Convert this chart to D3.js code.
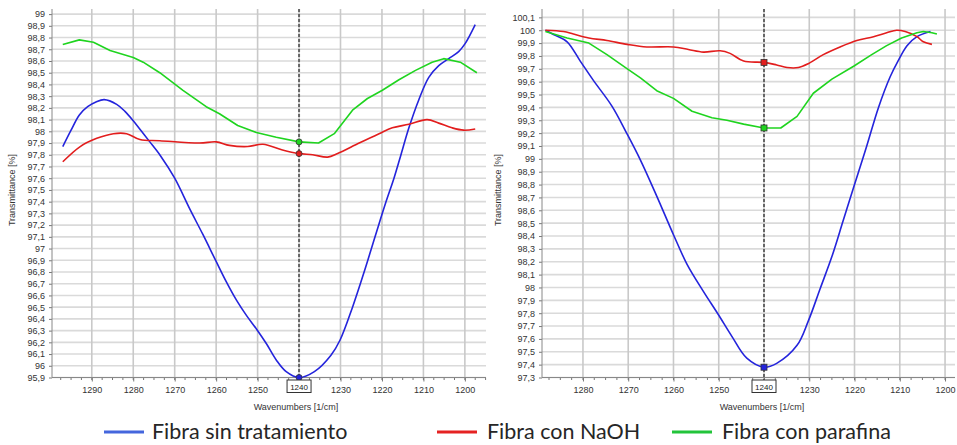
<!DOCTYPE html>
<html>
<head>
<meta charset="utf-8">
<script src="https://cdn.jsdelivr.net/npm/d3@7"></script>
<style>
  html, body { margin: 0; padding: 0; background: #fff; }
  svg { display: block; }
</style>
</head>
<body>
<svg id="chart" width="957" height="445"></svg>
<script>
// Wavenumber / transmittance readings, [1/cm, %]
const leftSinTratamiento = [
  [1297, 97.87], [1295, 98.01], [1293, 98.14], [1291, 98.21], [1289, 98.25], [1287, 98.27],
  [1284, 98.23], [1282, 98.17], [1280, 98.09], [1278, 98.00], [1276, 97.91], [1273.4, 97.79],
  [1270, 97.60], [1266.4, 97.34], [1263.2, 97.12], [1260, 96.89], [1257.6, 96.72], [1255.1, 96.56],
  [1252.7, 96.43], [1250.2, 96.31], [1247.9, 96.19], [1245.5, 96.05], [1243.1, 95.95], [1240, 95.90],
  [1236.3, 95.95], [1232.3, 96.09], [1230.1, 96.22], [1227.1, 96.50], [1224.3, 96.80], [1221.5, 97.12],
  [1219.1, 97.39], [1217.1, 97.60], [1215.5, 97.79], [1213.5, 98.03], [1211.1, 98.27], [1208.7, 98.46],
  [1206.3, 98.56], [1203.9, 98.62], [1201.5, 98.68], [1199.9, 98.75], [1197.5, 98.91]
];
const leftNaOH = [
  [1297, 97.74], [1292.8, 97.87], [1288.8, 97.94], [1284.8, 97.98], [1281.6, 97.98], [1278.4, 97.93],
  [1273.6, 97.92], [1264, 97.90], [1260, 97.91], [1256.8, 97.88], [1252.4, 97.87], [1248.7, 97.89],
  [1244, 97.84], [1240, 97.81], [1236.7, 97.80], [1233.1, 97.78], [1230.7, 97.81], [1225.5, 97.90],
  [1220.7, 97.98], [1217.5, 98.03], [1213.5, 98.06], [1209.1, 98.10], [1206.3, 98.07], [1203.1, 98.03],
  [1200.3, 98.01], [1197.5, 98.02]
];
const leftParafina = [
  [1297, 98.74], [1293, 98.78], [1289.6, 98.76], [1285.6, 98.69], [1280, 98.63], [1277.6, 98.59],
  [1273.6, 98.50], [1268, 98.35], [1262.4, 98.21], [1259.2, 98.15], [1254.8, 98.05], [1250.3, 97.99],
  [1245.5, 97.95], [1240, 97.91], [1235.3, 97.90], [1231.5, 97.98], [1227.1, 98.18], [1223.5, 98.28],
  [1219.9, 98.35], [1215.9, 98.44], [1211.9, 98.52], [1207.9, 98.59], [1205.1, 98.62], [1201.1, 98.59],
  [1197.1, 98.50]
];
const rightSinTratamiento = [
  [1288.3, 100.00], [1286.1, 99.96], [1283.5, 99.91], [1280.6, 99.76], [1277.7, 99.61], [1273.6, 99.41],
  [1270.2, 99.19], [1267.3, 98.99], [1263.7, 98.71], [1260, 98.41], [1257, 98.18], [1253.4, 97.97],
  [1250.1, 97.79], [1247.1, 97.62], [1243.8, 97.45], [1240, 97.38], [1237.2, 97.41], [1232.7, 97.55],
  [1230.2, 97.74], [1227.6, 97.99], [1225, 98.24], [1222.5, 98.52], [1220, 98.80], [1217.3, 99.10],
  [1214.7, 99.40], [1212.1, 99.64], [1210.4, 99.76], [1208.4, 99.88], [1206.2, 99.95], [1203.2, 99.99]
];
const rightNaOH = [
  [1288.3, 100.00], [1284.3, 99.99], [1282.1, 99.97], [1278.7, 99.94], [1274.7, 99.92], [1270.2, 99.89],
  [1265.9, 99.87], [1260, 99.87], [1256.7, 99.85], [1253.4, 99.83], [1249.7, 99.84], [1247.5, 99.82],
  [1244.5, 99.76], [1240, 99.75], [1237.2, 99.73], [1234.9, 99.71], [1232.4, 99.71], [1230.2, 99.74],
  [1226.9, 99.81], [1223.2, 99.87], [1219.5, 99.92], [1215.8, 99.95], [1212.9, 99.98], [1210.7, 100.00],
  [1208.8, 99.99], [1206.2, 99.95], [1204.8, 99.91], [1202.9, 99.89]
];
const rightParafina = [
  [1288.3, 99.99], [1283.5, 99.94], [1278.7, 99.90], [1274.7, 99.81], [1270.2, 99.70], [1267.3, 99.63],
  [1263.7, 99.53], [1260, 99.47], [1255.9, 99.37], [1251.5, 99.32], [1248.2, 99.30], [1244.5, 99.27],
  [1240, 99.24], [1236.3, 99.24], [1232.7, 99.33], [1229.1, 99.51], [1225, 99.62], [1220.2, 99.72],
  [1216.2, 99.81], [1212.9, 99.88], [1209.6, 99.94], [1206.2, 99.98], [1204.8, 99.99], [1202.9, 99.98],
  [1201.8, 99.97]
];

const xTickValues = [1290, 1280, 1270, 1260, 1250, 1240, 1230, 1220, 1210, 1200];
const leftYTicks = d3.range(959, 991).map(v => v / 10);    // 95,9 … 99
const rightYTicks = d3.range(973, 1002).map(v => v / 10);  // 97,3 … 100,1
const cursorWavenumber = 1240;

const seriesNames = ["Fibra sin tratamiento", "Fibra con NaOH", "Fibra con parafina"];
const seriesColors = ["#2424dc", "#e21d1d", "#1fd41f"];
const legendColors = ["#4466dd", "#e52222", "#22c43a"];

const xAxisTitle = "Wavenumbers [1/cm]";
const yAxisTitle = "Transmittance [%]";

const fmt = v => String(+v.toFixed(1)).replace(".", ",");

const svg = d3.select("#chart");

const panels = [
  {
    left: 52, right: 486, top: 9, bottom: 377.5,
    xDomain: [1299.6, 1194.9], yDomain: [95.9, 99.0435], yTicks: leftYTicks,
    series: [leftSinTratamiento, leftNaOH, leftParafina],
    marker: "circle", xTitleX: 296, yTitleX: 15
  },
  {
    left: 542, right: 955, top: 9, bottom: 377.5,
    xDomain: [1289.05, 1197.8], yDomain: [97.3, 100.165], yTicks: rightYTicks,
    series: [rightSinTratamiento, rightNaOH, rightParafina],
    marker: "square", xTitleX: 762, yTitleX: 501
  }
];

const axisFont = "'Liberation Sans', Arial, sans-serif";

panels.forEach(p => {
  const x = d3.scaleLinear().domain(p.xDomain).range([p.left, p.right]);
  const y = d3.scaleLinear().domain(p.yDomain).range([p.bottom, p.top]);
  const g = svg.append("g");

  // horizontal grid every 0.1 %
  g.append("g").selectAll("line").data(p.yTicks).join("line")
    .attr("x1", p.left).attr("x2", p.right)
    .attr("y1", d => y(d)).attr("y2", d => y(d))
    .attr("stroke", "#dadada").attr("stroke-width", 1.6);

  // vertical grid every 10 cm-1
  const xVisible = xTickValues.filter(v => x(v) >= p.left && x(v) <= p.right);
  g.append("g").selectAll("line").data(xVisible).join("line")
    .attr("x1", d => x(d)).attr("x2", d => x(d))
    .attr("y1", p.top).attr("y2", p.bottom)
    .attr("stroke", "#c9c9c9").attr("stroke-width", 1.6);

  // x axis (the cursor box carries the label at the cursor position)
  const xMinor = d3.range(1300, 1190, -2.5).filter(v => x(v) >= p.left && x(v) <= p.right);
  const xAxis = d3.axisBottom(x).tickValues(xVisible)
    .tickFormat(d => d === cursorWavenumber ? "" : String(d))
    .tickSize(4).tickPadding(5);
  const xg = g.append("g").attr("transform", `translate(0,${p.bottom})`).call(xAxis);
  xg.select(".domain").remove();
  xg.selectAll(".tick line").attr("stroke", "#777");
  xg.selectAll(".tick text").attr("font-family", axisFont).attr("font-size", 9).attr("fill", "#333");
  g.append("g").selectAll("line").data(xMinor).join("line")
    .attr("x1", d => x(d)).attr("x2", d => x(d))
    .attr("y1", p.bottom).attr("y2", p.bottom + 2.5)
    .attr("stroke", "#777").attr("stroke-width", 1);
  g.append("line")
    .attr("x1", p.left).attr("x2", p.right).attr("y1", p.bottom).attr("y2", p.bottom)
    .attr("stroke", "#888").attr("stroke-width", 1);

  // y axis
  const yAxis = d3.axisLeft(y).tickValues(p.yTicks).tickFormat(fmt).tickSize(3).tickPadding(4);
  const yg = g.append("g").attr("transform", `translate(${p.left},0)`).call(yAxis);
  yg.select(".domain").remove();
  yg.selectAll(".tick line").attr("stroke", "#777");
  yg.selectAll(".tick text").attr("font-family", axisFont).attr("font-size", 9).attr("fill", "#333");
  g.append("line")
    .attr("x1", p.left).attr("x2", p.left).attr("y1", p.top).attr("y2", p.bottom)
    .attr("stroke", "#888").attr("stroke-width", 1);

  // axis titles
  g.append("text")
    .attr("x", p.xTitleX).attr("y", 410)
    .attr("text-anchor", "middle")
    .attr("font-family", axisFont).attr("font-size", 9).attr("fill", "#333")
    .text(xAxisTitle);
  g.append("text")
    .attr("transform", `translate(${p.yTitleX},190) rotate(-90)`)
    .attr("text-anchor", "middle")
    .attr("font-family", axisFont).attr("font-size", 9).attr("fill", "#333")
    .text(yAxisTitle);

  // spectra
  const line = d3.line().x(d => x(d[0])).y(d => y(d[1]));
  p.series.forEach((s, i) => {
    g.append("path")
      .datum(s)
      .attr("d", line.curve(i === 2 ? d3.curveLinear : d3.curveCatmullRom.alpha(0.5)))
      .attr("fill", "none")
      .attr("stroke", seriesColors[i])
      .attr("stroke-width", 1.6)
      .attr("stroke-linejoin", "round");
  });

  // cursor line at 1240
  const cx = x(cursorWavenumber);
  g.append("line")
    .attr("x1", cx).attr("x2", cx).attr("y1", p.top).attr("y2", p.bottom + 3)
    .attr("stroke", "#666").attr("stroke-width", 2).attr("stroke-dasharray", "3,2");

  // cursor markers
  p.series.forEach((s, i) => {
    const pt = s.find(d => d[0] === cursorWavenumber);
    if (!pt) return;
    if (p.marker === "circle") {
      g.append("circle")
        .attr("cx", cx).attr("cy", y(pt[1])).attr("r", 3)
        .attr("fill", seriesColors[i]).attr("stroke", "#333").attr("stroke-width", 0.8);
    } else {
      g.append("rect")
        .attr("x", cx - 3).attr("y", y(pt[1]) - 3).attr("width", 6).attr("height", 6)
        .attr("fill", seriesColors[i]).attr("stroke", "#333").attr("stroke-width", 0.8);
    }
  });

  // cursor value box
  g.append("rect")
    .attr("x", cx - 12).attr("y", p.bottom + 2.5).attr("width", 24).attr("height", 12.5)
    .attr("fill", "#fff").attr("stroke", "#333").attr("stroke-width", 1);
  g.append("text")
    .attr("x", cx).attr("y", p.bottom + 12)
    .attr("text-anchor", "middle")
    .attr("font-family", axisFont).attr("font-size", 8).attr("fill", "#222")
    .text(String(cursorWavenumber));
});

// legend
const legendItems = [
  { lx: 104, tx: 152 },
  { lx: 437, tx: 487 },
  { lx: 672, tx: 722 }
];
const legend = svg.append("g");
legendItems.forEach((it, i) => {
  legend.append("line")
    .attr("x1", it.lx).attr("x2", it.lx + 40).attr("y1", 432).attr("y2", 432)
    .attr("stroke", legendColors[i]).attr("stroke-width", 3);
  legend.append("text")
    .attr("x", it.tx).attr("y", 439)
    .attr("font-family", "Lato, 'Open Sans', sans-serif").attr("font-size", 21.5).attr("fill", "#262626")
    .text(seriesNames[i]);
});
</script>
</body>
</html>
